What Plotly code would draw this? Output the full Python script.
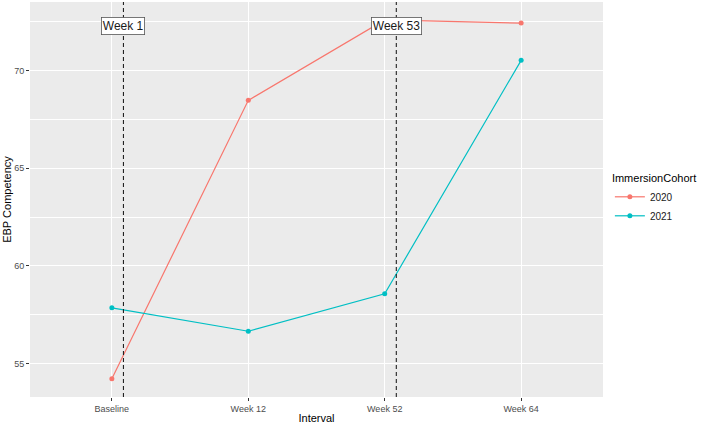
import plotly.graph_objects as go

intervals = ["Baseline", "Week 12", "Week 52", "Week 64"]
positions = [1, 2, 3, 4]
cohort_2020 = [54.22, 68.48, 72.6, 72.44]
cohort_2021 = [57.85, 56.65, 58.57, 70.53]
cohorts = ["2020", "2021"]
colors = ["#F8766D", "#00BFC4"]
marker_lines = [1.085, 3.085]
marker_labels = ["Week 1", "Week 53"]
label_y = 72.3

FONT = "Liberation Sans, Arial, sans-serif"

fig = go.Figure()
for name, vals, col in zip(cohorts, [cohort_2020, cohort_2021], colors):
    fig.add_trace(go.Scatter(
        x=positions, y=vals, mode="lines+markers", name=name,
        line=dict(color=col, width=1.2),
        marker=dict(color=col, size=5),
    ))

for xv, lab in zip(marker_lines, marker_labels):
    fig.add_shape(type="line", xref="x", yref="paper", x0=xv, x1=xv, y0=0, y1=1,
                  line=dict(color="#222222", width=1.1, dash="4px,3px"), layer="above")
    fig.add_annotation(x=xv, y=label_y, xref="x", yref="y", text=lab, showarrow=False,
                       font=dict(family=FONT, size=12, color="#1a1a1a"),
                       bgcolor="white", bordercolor="#555555", borderwidth=0.8, borderpad=1)

fig.update_layout(
    width=709, height=424,
    margin=dict(l=30, r=106, t=2, b=27),
    paper_bgcolor="white", plot_bgcolor="#EBEBEB",
    font=dict(family=FONT, color="#000000"),
    showlegend=True,
    legend=dict(
        title=dict(text="ImmersionCohort", font=dict(size=11, color="#000000")),
        x=1.012, xanchor="left", y=0.5, yanchor="middle",
        font=dict(size=10, color="#1a1a1a"), bgcolor="rgba(0,0,0,0)",
        itemwidth=30, tracegroupgap=2,
    ),
)
fig.update_xaxes(
    range=[0.4, 4.6], tickmode="array", tickvals=positions, ticktext=intervals,
    showgrid=True, gridcolor="white", gridwidth=1.1, zeroline=False,
    ticks="outside", ticklen=3, tickcolor="#333333", tickwidth=1,
    tickfont=dict(size=9, color="#4D4D4D", family=FONT),
    title=dict(text="Interval", font=dict(size=11, color="#000000"), standoff=2),
    showline=False, automargin=False,
)
fig.update_yaxes(
    range=[53.28, 73.52], tickmode="array", tickvals=[55, 60, 65, 70],
    showgrid=True, gridcolor="white", gridwidth=1.1, zeroline=False,
    minor=dict(tickmode="array", tickvals=[57.5, 62.5, 67.5, 72.5], showgrid=True,
               gridcolor="white", gridwidth=0.5, ticks=""),
    ticks="outside", ticklen=3, tickcolor="#333333", tickwidth=1,
    tickfont=dict(size=9, color="#4D4D4D", family=FONT),
    title=dict(text="EBP Competency", font=dict(size=11, color="#000000"), standoff=0),
    showline=False, automargin=False,
)

fig.write_html("out.html", config={"displayModeBar": False},
               post_script="document.body.style.margin='0px';document.body.style.overflow='hidden';")
